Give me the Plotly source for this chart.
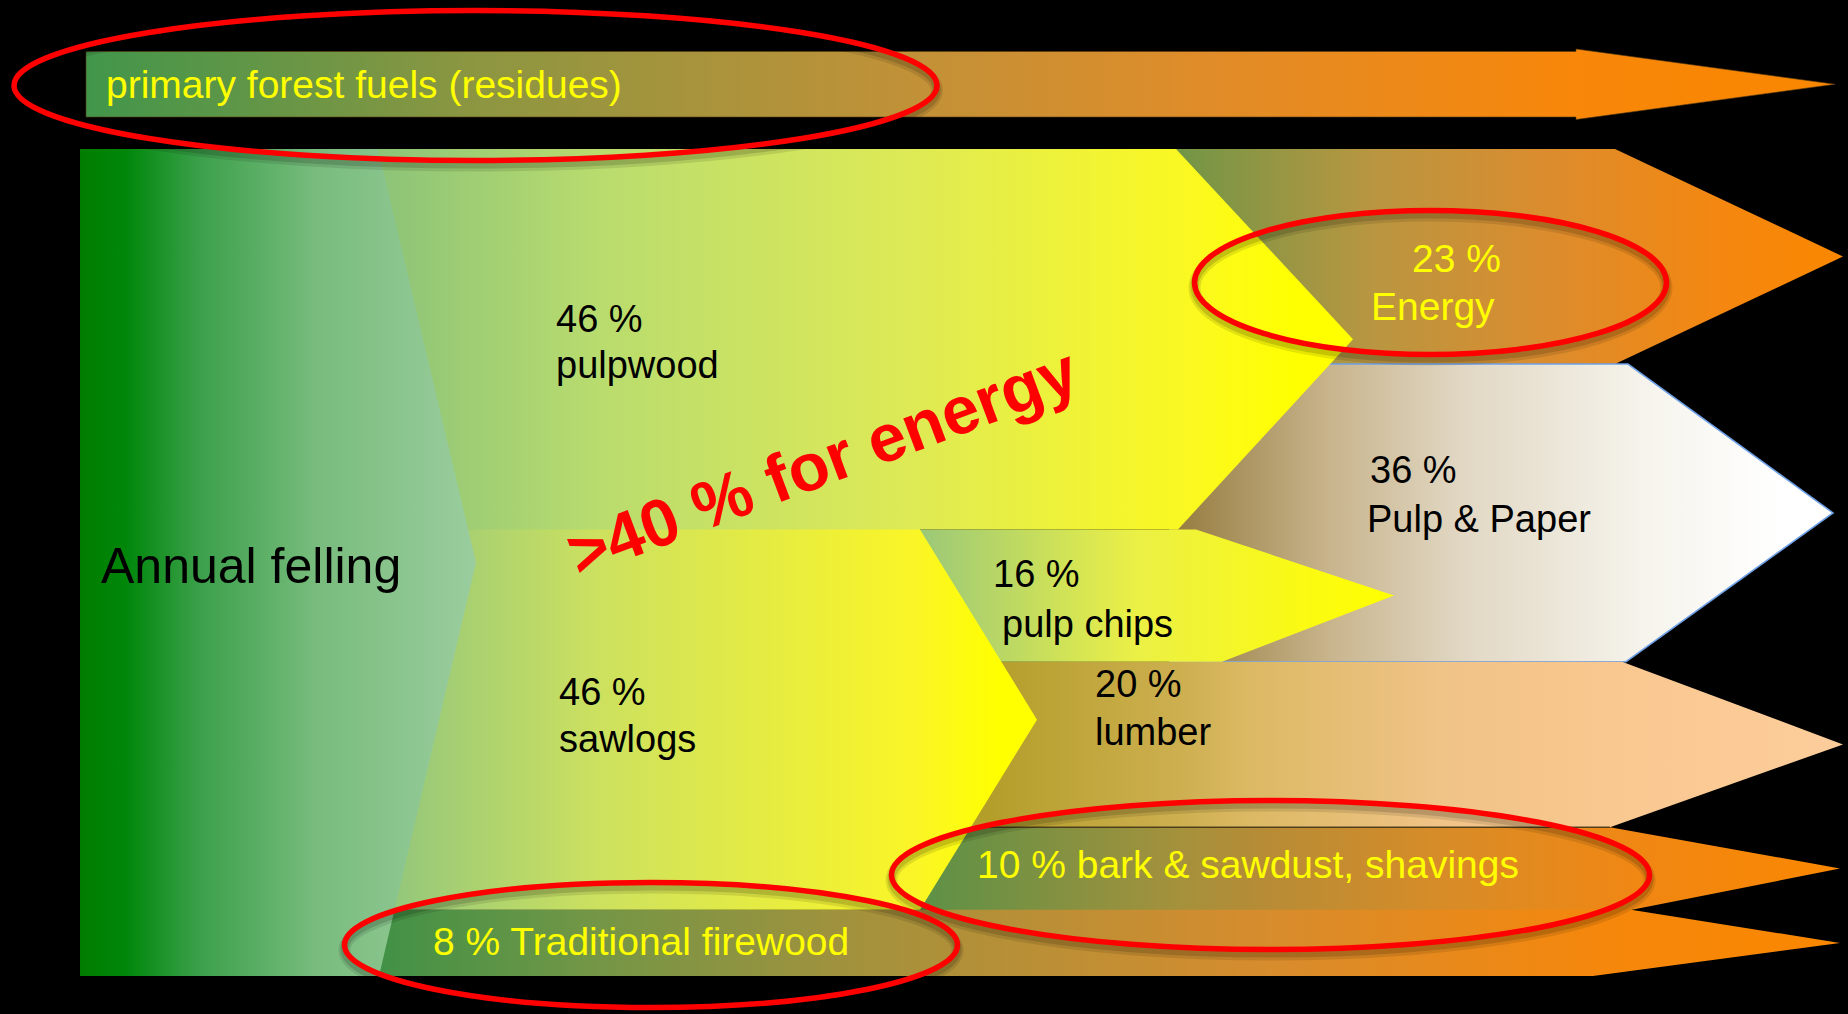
import plotly.graph_objects as go

# Shares of the annual felling, in percent
felling_total = 100
roundwood_labels = ["pulpwood", "sawlogs"]
roundwood_shares = [46, 46]
firewood_label = "Traditional firewood"
firewood_share = 8
mill_labels = ["pulp chips", "lumber", "bark & sawdust, shavings"]
mill_shares = [16, 20, 10]
end_use_labels = ["Energy", "Pulp & Paper"]
end_use_shares = [23, 36]
residue_label = "primary forest fuels (residues)"
headline = ">40 % for energy"

# ---- vertical scale: y axis is measured in percent of the felling ----
Y0_PX = 149.0        # screen row of 0 %
PX_PER_PCT = 8.27    # screen pixels per percent
W, H = 1848, 1014
SEAM = 0.3           # hidden overlap under the next band, avoids hairline gaps


def u(px):
    """Screen row -> axis units (used for labels and decorations)."""
    return (px - Y0_PX) / PX_PER_PCT


# band edges built from the shares
pulp_top, pulp_bot = 0, roundwood_shares[0]
saw_top, saw_bot = pulp_bot, pulp_bot + roundwood_shares[1]
fire_top, fire_bot = saw_bot, saw_bot + firewood_share
chips_top, chips_bot = saw_top, saw_top + mill_shares[0]
lum_top, lum_bot = chips_bot, chips_bot + mill_shares[1]
bark_top, bark_bot = lum_bot, lum_bot + mill_shares[2]
pp_top, pp_bot = chips_bot - end_use_shares[1], chips_bot
en_top, en_bot = 0, pp_top

fig = go.Figure()


def grad(stops):
    x0, x1 = stops[0][0], stops[-1][0]
    cs = [[(x - x0) / (x1 - x0), "rgb(%d,%d,%d)" % c] for x, c in stops]
    return dict(type="horizontal", colorscale=cs, start=x0, stop=x1)


def poly(xs, ys, stops, line=None):
    fig.add_trace(go.Scatter(
        x=xs + [xs[0]], y=ys + [ys[0]], fill="toself", mode="lines",
        line=line or dict(width=0, color="rgba(0,0,0,0)"),
        fillgradient=grad(stops), hoverinfo="skip", showlegend=False))


def arrow(x_left, xs_top, x_tip, xs_bot, top, bot, stops, line=None,
          ext_top=0.0, ext_bot=0.0):
    """Band with a pointed head; the body may reach a little further
    up/down (ext_*) underneath the neighbouring band."""
    mid = (top + bot) / 2
    xs = [x_left, xs_top, xs_top, x_tip, xs_bot, xs_bot, x_left]
    ys = [top - ext_top, top - ext_top, top, mid, bot, bot + ext_bot, bot + ext_bot]
    poly(xs, ys, stops, line)


ORANGE = (250, 135, 0)

# primary forest fuels arrow (above the main block)
b_top, b_bot, h_top, h_bot = u(51.5), u(117), u(49), u(119.5)
poly([86, 1576, 1576, 1835, 1576, 1576, 86],
     [b_top, b_top, h_top, (h_top + h_bot) / 2, h_bot, b_bot, b_bot],
     [(86, (65, 150, 75)), (471, (140, 150, 65)), (924, (195, 145, 55)),
      (1218, (225, 140, 40)), (1576, (248, 135, 10)), (1835, ORANGE)],
     line=dict(width=1, color="rgba(90,60,20,0.6)"))

# energy
arrow(1170, 1615, 1843, 1615, en_top, en_bot,
      [(1176, (112, 150, 70)), (1372, (185, 150, 65)), (1550, (220, 140, 45)),
       (1729, (245, 135, 15)), (1843, ORANGE)])

# pulp & paper
arrow(1170, 1628, 1833, 1626, pp_top, pp_bot,
      [(1178, (150, 125, 65)), (1328, (200, 180, 140)), (1461, (225, 215, 195)),
       (1640, (245, 243, 235)), (1780, (255, 255, 255)), (1833, (255, 255, 255))],
      line=dict(width=1.6, color="rgb(110,160,230)"))

# lumber
arrow(930, 1622, 1843, 1610, lum_top, lum_bot,
      [(990, (180, 158, 42)), (1180, (205, 175, 80)), (1250, (220, 185, 100)),
       (1441, (240, 195, 135)), (1631, (250, 200, 145)), (1843, (252, 205, 155))])

# bark & sawdust, shavings
arrow(900, 1610, 1840, 1632, bark_top, bark_bot,
      [(930, (95, 145, 70)), (1180, (165, 145, 60)), (1250, (180, 140, 55)),
       (1441, (215, 140, 40)), (1631, (240, 135, 20)), (1840, ORANGE)],
      ext_bot=SEAM)
fig.add_trace(go.Scatter(x=[940, 1610], y=[bark_top, bark_top], mode="lines",
                         line=dict(width=1.5, color="rgba(70,55,25,0.9)"),
                         hoverinfo="skip", showlegend=False))

# traditional firewood
arrow(370, 1631, 1840, 1593, fire_top, fire_bot,
      [(380, (65, 145, 70)), (593, (115, 150, 70)), (868, (165, 145, 60)),
       (1270, (215, 140, 45)), (1600, (245, 135, 12)), (1840, ORANGE)])

# pulp chips
arrow(900, 1196, 1394, 1222, chips_top, chips_bot,
      [(920, (155, 200, 120)), (1136, (235, 240, 70)), (1300, (250, 250, 20)),
       (1394, (255, 255, 0))])

# sawlogs (body tucked under pulpwood above and firewood below)
arrow(370, 920, 1037, 920, saw_top, saw_bot,
      [(400, (150, 200, 122)), (600, (205, 225, 95)), (912, (250, 245, 40)),
       (1000, (255, 255, 0)), (1037, (255, 255, 0))],
      ext_top=SEAM)

# pulpwood
arrow(370, 1176, 1353, 1178, pulp_top, pulp_bot,
      [(378, (140, 195, 120)), (600, (185, 220, 110)), (912, (222, 234, 85)),
       (1180, (250, 248, 35)), (1300, (255, 255, 0)), (1353, (255, 255, 0))])

# annual felling chevron
poly([80, 378, 476, 379, 80],
     [0, 0, felling_total / 2, felling_total, felling_total],
     [(80, (0, 125, 0)), (126, (0, 135, 10)), (200, (60, 160, 75)),
      (316, (120, 188, 125)), (476, (155, 205, 158))])

# ---- red highlight ellipses (with a soft drop shadow) ----
ellipses = [(14, 937, 10.5, 160.5), (1194.5, 1666.5, 210.5, 354.5),
            (891.5, 1649.5, 800.5, 949.5), (344.5, 957.5, 882.5, 1007.5)]
shapes = []
for x0, x1, y0, y1 in ellipses:
    for off, wid, alpha in [(5, 12, 0.10), (4, 8, 0.14)]:
        shapes.append(dict(type="circle", xref="x", yref="y", x0=x0, x1=x1,
                           y0=u(y0 + off), y1=u(y1 + off), layer="above",
                           line=dict(color="rgba(0,0,0,%.2f)" % alpha, width=wid)))
for x0, x1, y0, y1 in ellipses:
    shapes.append(dict(type="circle", xref="x", yref="y", x0=x0, x1=x1,
                       y0=u(y0), y1=u(y1), layer="above",
                       line=dict(color="rgb(255,0,0)", width=5.5)))

# ---- labels ----
FONT = "Liberation Sans, Arial, sans-serif"
BLACK, YELLOW = "black", "rgb(255,255,0)"
annotations = []


def label(text, x_left, baseline, size, color):
    annotations.append(dict(
        text=text, x=x_left - 2, y=u(baseline - 0.347 * size), xref="x", yref="y",
        xanchor="left", yanchor="middle", showarrow=False,
        font=dict(family=FONT, size=size, color=color)))


label(residue_label, 106, 98.3, 39, YELLOW)
label("Annual felling", 101, 583, 50, BLACK)
label(f"{roundwood_shares[0]} %", 556, 332, 38, BLACK)
label(roundwood_labels[0], 556, 378, 38, BLACK)
label(f"{roundwood_shares[1]} %", 559, 705, 38, BLACK)
label(roundwood_labels[1], 559, 752.5, 38, BLACK)
label(f"{end_use_shares[0]} %", 1412, 272, 39, YELLOW)
label(end_use_labels[0], 1371, 320, 39, YELLOW)
label(f"{end_use_shares[1]} %", 1370, 483, 38, BLACK)
label(end_use_labels[1], 1367, 532, 38, BLACK)
label(f"{mill_shares[0]} %", 993, 587, 38, BLACK)
label(mill_labels[0], 1002, 637, 38, BLACK)
label(f"{mill_shares[1]} %", 1095, 697, 38, BLACK)
label(mill_labels[1], 1095, 745, 38, BLACK)
label(f"{mill_shares[2]} % {mill_labels[2]}", 977, 878.3, 39, YELLOW)
label(f"{firewood_share} % {firewood_label}", 433, 955, 39, YELLOW)

annotations.append(dict(
    text=f"<b>{headline}</b>", x=822, y=u(461), xref="x", yref="y",
    xanchor="center", yanchor="middle", showarrow=False, textangle=-20.5,
    font=dict(family=FONT, size=67, color="rgb(255,0,0)")))

fig.update_layout(
    width=W, height=H, margin=dict(l=0, r=0, t=0, b=0, pad=0),
    paper_bgcolor="black", plot_bgcolor="black",
    xaxis=dict(range=[0, W], visible=False, fixedrange=True),
    yaxis=dict(range=[u(H), u(0)], visible=False, fixedrange=True),
    shapes=shapes, annotations=annotations, showlegend=False,
)

fig.write_html("out.html")
